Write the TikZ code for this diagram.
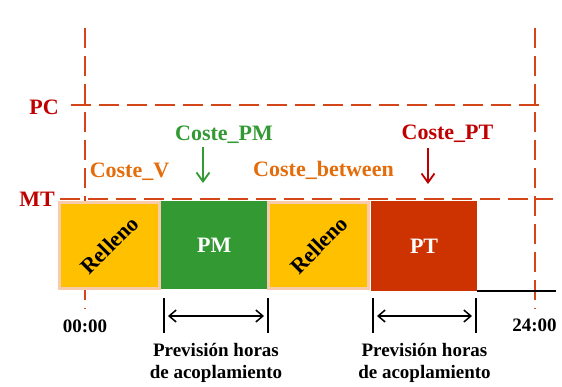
\documentclass[tikz,border=0pt]{standalone}
\usepackage{fontspec}
\setmainfont{Liberation Serif}
\usetikzlibrary{arrows.meta,positioning,calc}

\definecolor{amarillo}{HTML}{FFC000}
\definecolor{borde}{HTML}{F8CBAD}
\definecolor{verde}{HTML}{339933}
\definecolor{rojopt}{HTML}{CC3300}
\definecolor{granate}{HTML}{C00000}
\definecolor{naranja}{HTML}{E46C0A}
\definecolor{guiacol}{HTML}{D4461A}

\begin{document}
\begin{tikzpicture}[
    x=1pt, y=-1pt,
    font=\bfseries\fontsize{22}{26}\selectfont,
    guia/.style={draw=guiacol, line width=2pt, dash pattern=on 20pt off 8pt},
    bloque/.style={minimum width=106pt, minimum height=88pt, inner sep=0pt, text=white},
    rell/.style={draw=borde, line width=3pt, fill=amarillo, minimum width=100pt, minimum height=86pt, inner sep=0pt},
    marca/.style={line width=2pt},
    cota/.style={{Straight Barb[length=7pt,width=12pt]}-{Straight Barb[length=7pt,width=12pt]}, line width=1.5pt, shorten <=4pt, shorten >=4pt},
    flecha/.style={-{Straight Barb[length=9pt,width=13pt]}, line width=1.8pt},
    nota/.style={font=\bfseries\fontsize{19}{22}\selectfont, align=center, inner sep=0pt}
  ]
    \useasboundingbox (0,0) rectangle (562,386);

    % guide lines
    \coordinate (v0a) at (85,28);  \coordinate (v0b) at (85,309);
    \coordinate (v1a) at (535,28); \coordinate (v1b) at (535,309);
    \coordinate (pc0) at (71,105); \coordinate (pc1) at (545,105);
    \coordinate (mt0) at (60,199); \coordinate (mt1) at (553,199);
    \draw[guia] (v0a) -- (v0b);
    \draw[guia] (v1a) -- (v1b);
    \draw[guia] (pc0) -- (pc1);
    \draw[guia] (mt0) -- (mt1);
    \node[text=granate, anchor=base] (pc) at (44,114) {PC};
    \node[text=granate, anchor=base] (mt) at (37,206) {MT};

    % blocks
    \node[rell] (r1) at (109.5,245) {\rotatebox{45}{Relleno}};
    \node[bloque, fill=verde, right=0pt of r1] (pm) {PM};
    \node[rell, right=0pt of pm] (r2) {\rotatebox{45}{Relleno}};
    \node[bloque, fill=rojopt, minimum height=90pt, right=0.5pt of r2, yshift=-1pt] (pt) {PT};
    \coordinate (fin) at (556,288);
    \draw[line width=1.5pt] (pt.south east) -- (pt.south east -| fin);

    % costs
    \node[text=naranja, anchor=base] (cv) at (129.5,177) {Coste\_V};
    \node[text=verde, anchor=base] (cpm) at (224,140) {Coste\_PM};
    \node[text=naranja, anchor=base] (cb) at (323.5,176) {Coste\_between};
    \node[text=granate, anchor=base] (cpt) at (447.5,139) {Coste\_PT};
    \coordinate (apm0) at (203,147); \coordinate (apm1) at (203,183);
    \coordinate (apt0) at (428,148); \coordinate (apt1) at (428,184);
    \draw[flecha, verde] (apm0) -- (apm1);
    \draw[flecha, granate] (apt0) -- (apt1);

    % hours
    \node[nota, anchor=base] (h0) at (85,332) {00:00};
    \node[nota, anchor=base] (h24) at (534.5,331) {24:00};

    % coupling windows
    \foreach \a/\b/\n in {164/268/1, 373/476/2} {
      \coordinate (ia\n) at (\a,298); \coordinate (ib\n) at (\a,333);
      \coordinate (da\n) at (\b,298); \coordinate (db\n) at (\b,333);
      \coordinate (ci\n) at (\a,316); \coordinate (cd\n) at (\b,316);
      \draw[marca] (ia\n) -- (ib\n);
      \draw[marca] (da\n) -- (db\n);
      \draw[cota] (ci\n) -- (cd\n);
      \node[nota] (p\n) at ({(\a+\b)/2},363) {Previsión horas\\de acoplamiento};
    }
\end{tikzpicture}
\end{document}
